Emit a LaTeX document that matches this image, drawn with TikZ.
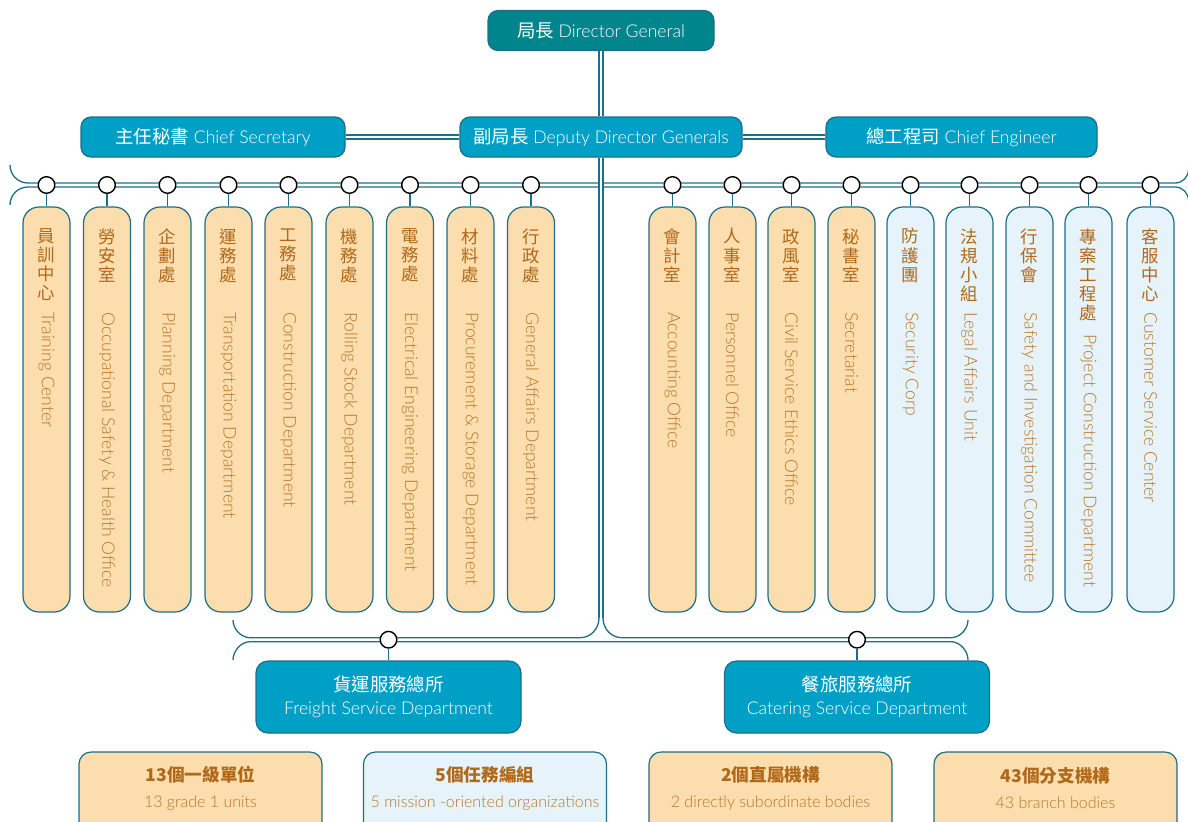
\documentclass[tikz,border=0pt]{standalone}
\usepackage{fontspec}
\setmainfont{Lato Light}
\newfontfamily\cjk{Noto Sans CJK TC}
\usetikzlibrary{positioning}
\definecolor{dgteal}{HTML}{00858C}
\definecolor{boxblue}{HTML}{00A0C6}
\definecolor{linecol}{HTML}{1C6E87}
\definecolor{unitorange}{HTML}{FBDDAE}
\definecolor{taskblue}{HTML}{E6F3FA}
\definecolor{txtbrown}{HTML}{B0691A}
\definecolor{txtlight}{HTML}{B9782A}
\newcommand{\headzh}[1]{{\cjk\fontsize{9.2}{10}\selectfont #1}}
\tikzset{
  conn/.style={draw=linecol, line width=0.65pt},
  dline/.style={draw=linecol, line width=0.65pt, double=white, double distance=1.35pt},
  topbox/.style={draw=linecol, fill=boxblue, line width=0.6pt, rounded corners=5pt,
    minimum height=20pt, inner sep=0pt, text=white, font=\fontsize{8.8}{10}\selectfont},
  unitbox/.style={draw=linecol, line width=0.6pt, rounded corners=8pt,
    minimum width=23.5pt, minimum height=202.5pt, inner sep=0pt},
  bushole/.style={circle, draw=black, fill=white, line width=0.7pt, minimum size=8.3pt, inner sep=0pt},
  zhcol/.style={align=center, inner sep=0pt, text=txtbrown, font=\cjk\fontsize{8.7}{9.6}\selectfont},
  encol/.style={rotate=-90, inner sep=0pt, text=txtlight, font=\fontsize{8.8}{10}\selectfont},
  deptbox/.style={topbox, rounded corners=6pt, minimum width=132.5pt, minimum height=36pt, align=center},
  sumbox/.style={draw=linecol, line width=0.6pt, rounded corners=6pt, minimum width=121.5pt, minimum height=50pt},
  sumtext/.style={align=center, inner sep=0pt, text=txtbrown}
}
\begin{document}
\begin{tikzpicture}[x=0.5pt,y=-0.5pt]
\useasboundingbox (0,0) rectangle (1188,821);
% upper bus
\coordinate (busAl) at (10,165);
\coordinate (busBl) at (10,205);
\coordinate (busAr) at (1188.5,169.5);
\coordinate (busBr) at (1188.5,200.5);
\draw[conn] (busAl) .. controls (10,175) and (18,183) .. (28,183) -- (1175,183)
  .. controls (1182.5,183) and (1188.5,177) .. (busAr);
\draw[conn] (busBl) .. controls (10,195) and (18,187) .. (28,187) -- (1175,187)
  .. controls (1182.5,187) and (1188.5,193) .. (busBr);
% lower bus
\coordinate (trunkend) at (601,618);
\coordinate (trunkL) at (599,618);
\coordinate (trunkR) at (603,618);
\coordinate (lowAl) at (233,620);
\coordinate (lowBl) at (233,660);
\coordinate (lowAr) at (968,620);
\coordinate (lowBr) at (968,660);
\draw[conn] (lowAl) .. controls (233,629) and (241,637.7) .. (250,637.7) -- (580,637.7)
  .. controls (590.5,637.7) and (599,629) .. (trunkL);
\draw[conn] (trunkR) .. controls (603,629) and (611.5,637.7) .. (622,637.7) -- (951,637.7)
  .. controls (960,637.7) and (968,629) .. (lowAr);
\draw[conn] (lowBl) .. controls (233,651) and (241,641.7) .. (250,641.7) -- (951,641.7)
  .. controls (960,641.7) and (968,651) .. (lowBr);
% heads
\node[topbox, fill=dgteal, minimum width=113pt] (dg) at (601,30.5) {\headzh{局長} Director General};
\node[topbox, minimum width=141pt] (deputy) at (601,137) {\headzh{副局長} Deputy Director Generals};
\node[topbox, minimum width=132pt] (chiefsec) at (213,137) {\headzh{主任秘書} Chief Secretary};
\node[topbox, minimum width=135.5pt] (chiefeng) at (961.5,137) {\headzh{總工程司} Chief Engineer};
\draw[dline] (dg) -- (deputy);
\draw[dline] (chiefsec) -- (deputy);
\draw[dline] (deputy) -- (chiefeng);
\draw[dline] (deputy) -- (trunkend);
% units
\foreach \x/\zh/\en/\fc/\ey [count=\i] in {
  46.5/員\\訓\\中\\心/Training Center/unitorange/312,
  107/勞\\安\\室/Occupational Safety \& Health Office/unitorange/312,
  167.5/企\\劃\\處/Planning Department/unitorange/312,
  228.5/運\\務\\處/Transportation Department/unitorange/312,
  288.5/工\\務\\處/Construction Department/unitorange/312,
  349.5/機\\務\\處/Rolling Stock Department/unitorange/312,
  410/電\\務\\處/Electrical Engineering Department/unitorange/312,
  470.5/材\\料\\處/Procurement \& Storage Department/unitorange/312,
  531/行\\政\\處/General Affairs Department/unitorange/312,
  672.5/會\\計\\室/Accounting Office/unitorange/312,
  732.5/人\\事\\室/Personnel Office/unitorange/312,
  791.5/政\\風\\室/Civil Service Ethics Office/unitorange/312,
  851.5/秘\\書\\室/Secretariat/unitorange/312,
  910.5/防\\護\\團/Security Corp/taskblue/312,
  969.5/法\\規\\小\\組/Legal Affairs Unit/taskblue/312,
  1029.5/行\\保\\會/Safety and Investigation Committee/taskblue/312,
  1088.5/專\\案\\工\\程\\處/Project Construction Department/taskblue/334,
  1150.5/客\\服\\中\\心/Customer Service Center/taskblue/312}{
  \node[bushole] (hole\i) at (\x,185) {};
  \node[unitbox, fill=\fc] (unit\i) at (\x,409.5) {};
  \node[zhcol, anchor=north] (unitzh\i) at (\x,228) {\zh};
  \node[encol, anchor=west] (uniten\i) at (\x,\ey) {\en};
  \draw[conn] (hole\i) -- (unit\i);
}
% service departments
\node[bushole] (hubF) at (388.5,639.7) {};
\node[bushole] (hubC) at (857,639.7) {};
\node[deptbox] (freight) at (388.5,697) {\headzh{貨運服務總所}\\[1.5pt]Freight Service Department};
\node[deptbox] (catering) at (857,697) {\headzh{餐旅服務總所}\\[1.5pt]Catering Service Department};
\draw[conn] (hubF) -- (freight);
\draw[conn] (hubC) -- (catering);
% summary
\foreach \x/\zh/\en/\fc [count=\i] in {
  200.5/13個一級單位/13 grade 1 units/unitorange,
  485/5個任務編組/5 mission -oriented organizations/taskblue,
  770.5/2個直屬機構/2 directly subordinate bodies/unitorange,
  1055.5/43個分支機構/43 branch bodies/unitorange}{
  \node[sumbox, fill=\fc] (sum\i) at (\x,802) {};
  \node[sumtext] (sumtxt\i) at (\x,788)
    {{\cjk\bfseries\fontsize{8.8}{11}\selectfont \zh}\\[1pt]{\fontsize{8}{9}\selectfont\color{txtlight}\en}};
}
\end{tikzpicture}
\end{document}
